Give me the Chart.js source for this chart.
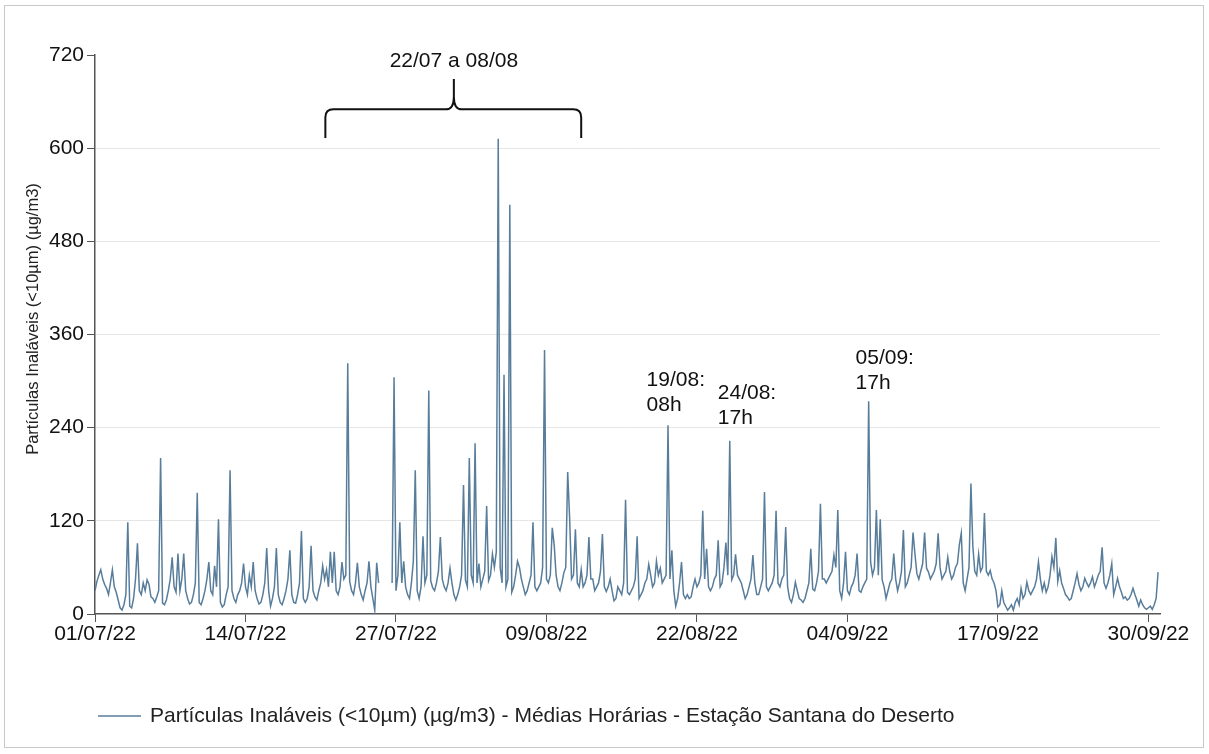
<!DOCTYPE html>
<html lang="pt">
<head>
<meta charset="utf-8">
<title>Partículas Inaláveis - Estação Santana do Deserto</title>
<script src="https://cdn.jsdelivr.net/npm/chart.js@4/dist/chart.umd.min.js"></script>
<style>
	html, body { margin: 0; padding: 0; background: #fff; }
	#box {
		position: absolute;
		left: 4px;
		top: 5px;
		width: 1198px;
		height: 741px;
		border: 1px solid #c8c8c8;
	}
	#wrap { position: absolute; left: -5px; top: -6px; width: 1209px; height: 754px; }
</style>
</head>
<body>
<div id="box"><div id="wrap"><canvas id="chart" width="1209" height="754"></canvas></div></div>
<script>
// Médias horárias, uma amostra a cada 4 h (6 por dia), 01/07/22 a 30/09/22
const STEP_HOURS = 4;
const pm10 = [
	30, 42, 50, 57, 45, 38, // 01/07
	33, 25, 40, 57, 35, 28,
	18, 8, 5, 12, 25, 118,
	10, 8, 20, 45, 91, 30,
	25, 40, 30, 44, 38, 22, // 05/07
	20, 15, 22, 30, 201, 14,
	12, 18, 30, 45, 73, 35,
	28, 78, 30, 45, 78, 30,
	20, 13, 15, 25, 40, 156,
	15, 12, 20, 30, 45, 67, // 10/07
	30, 25, 62, 35, 122, 15,
	9, 12, 25, 35, 185, 30,
	20, 15, 25, 30, 40, 65,
	35, 25, 50, 35, 67, 30,
	20, 13, 15, 25, 40, 85, // 15/07
	30, 10, 20, 35, 85, 25,
	15, 12, 20, 30, 45, 82,
	25, 15, 14, 25, 40, 107,
	20, 15, 20, 35, 88, 30,
	22, 18, 30, 40, 62, 45, // 20/07
	57, 35, 80, 40, 80, 30,
	25, 35, 67, 45, 50, 323,
	42, 30, 25, 40, 66, 35,
	25, 18, 30, 40, 68, 35,
	20, 5, 66, 40, null, null, // 25/07
	null, null, null, null, 40, 305,
	30, 50, 118, 40, 68, 35,
	25, 20, 40, 68, 185, 30,
	20, 35, 100, 40, 50, 288,
	43, 34, 30, 40, 55, 99, // 30/07
	45, 35, 30, 40, 59, 40,
	25, 18, 25, 35, 50, 166,
	44, 35, 201, 50, 40, 220,
	40, 65, 35, 45, 55, 139,
	43, 50, 77, 60, 80, 612, // 04/08
	60, 40, 308, 35, 45, 527,
	28, 35, 50, 68, 60, 45,
	35, 25, 30, 40, 50, 118,
	35, 30, 35, 40, 60, 340,
	45, 40, 50, 111, 89, 50, // 09/08
	35, 30, 40, 53, 60, 183,
	124, 45, 50, 109, 40, 35,
	57, 35, 40, 50, 99, 45,
	45, 30, 35, 40, 55, 103,
	35, 29, 35, 45, 30, 17, // 14/08
	20, 35, 30, 25, 40, 147,
	28, 25, 30, 35, 45, 100,
	20, 25, 30, 40, 45, 64,
	50, 35, 40, 68, 50, 59,
	40, 45, 50, 243, 45, 82, // 19/08
	30, 10, 20, 40, 67, 25,
	20, 25, 20, 22, 35, 45,
	35, 40, 50, 133, 45, 84,
	35, 30, 35, 45, 50, 95,
	35, 40, 60, 92, 50, 223, // 24/08
	44, 50, 77, 50, 45, 40,
	30, 20, 25, 35, 45, 76,
	40, 25, 25, 35, 45, 157,
	35, 30, 35, 40, 50, 133,
	40, 35, 45, 50, 112, 35, // 29/08
	20, 15, 25, 41, 30, 20,
	18, 15, 20, 30, 40, 84,
	32, 30, 40, 55, 142, 45,
	45, 40, 45, 50, 55, 76,
	60, 134, 30, 20, 40, 80, // 03/09
	30, 25, 35, 40, 50, 78,
	30, 28, 35, 40, 45, 274,
	67, 50, 60, 134, 50, 122,
	44, 35, 20, 30, 40, 45,
	78, 45, 30, 40, 55, 108, // 08/09
	35, 40, 50, 60, 105, 77,
	52, 45, 55, 65, 105, 59,
	54, 45, 50, 55, 65, 104,
	60, 45, 50, 55, 73, 55,
	45, 50, 60, 65, 89, 104, // 13/09
	40, 30, 45, 60, 168, 87,
	55, 50, 77, 55, 60, 130,
	55, 50, 56, 45, 40, 30,
	9, 12, 30, 15, 10, 5,
	8, 12, 5, 15, 20, 12, // 18/09
	33, 20, 25, 41, 30, 25,
	30, 35, 45, 67, 45, 30,
	40, 28, 35, 50, 74, 60,
	98, 42, 56, 40, 33, 25,
	22, 18, 20, 30, 40, 52, // 23/09
	38, 30, 35, 46, 40, 35,
	40, 48, 35, 42, 50, 55,
	86, 40, 33, 40, 50, 65,
	25, 35, 46, 35, 28, 20,
	22, 18, 20, 25, 33, 25, // 28/09
	18, 10, 18, 12, 8, 6,
	8, 10, 6, 12, 20, 54,
];

// Rótulos do eixo X (a cada 13 dias) e do eixo Y
const xTickLabels = [ '01/07/22', '14/07/22', '27/07/22', '09/08/22', '22/08/22', '04/09/22', '17/09/22', '30/09/22' ];
const xTickStepDays = 13;
const yTicks = [ 0, 120, 240, 360, 480, 600, 720 ];

const seriesLabel = 'Partículas Inaláveis (<10µm) (µg/m3) - Médias Horárias - Estação Santana do Deserto';
const yTitle = 'Partículas Inaláveis (<10µm) (µg/m3)';
const lineColor = '#587d9b';
const fontFamily = '"Liberation Sans", Arial, sans-serif';

// Anotações: posição em dias a partir de 01/07 e valor no eixo Y
const notes = [
	{ lines: [ '19/08:', '08h' ], day: 47.65, y: 301 },
	{ lines: [ '24/08:', '17h' ], day: 53.8, y: 285 },
	{ lines: [ '05/09:', '17h' ], day: 65.7, y: 330 },
];
const brace = { text: '22/07 a 08/08', from: 19.9, to: 42.0, mid: 31.0, end: 613, arm: 650, neck: 666, tip: 689, textY: 712 };

const points = pm10.map( ( v, i ) => ( { x: ( i * STEP_HOURS ) / 24, y: v } ) );

/**
 * Chave, textos de anotação, título do eixo Y e legenda
 */
const overlay = {
	id: 'overlay',
	afterDatasetsDraw( chart ) {
		const { ctx, scales } = chart;
		const xs = scales.x;
		const ys = scales.y;
		ctx.save();
		ctx.fillStyle = '#111';
		ctx.strokeStyle = '#111';
		ctx.font = '21px ' + fontFamily;

		// chave sobre o período
		const x1 = xs.getPixelForValue( brace.from );
		const x2 = xs.getPixelForValue( brace.to );
		const xm = xs.getPixelForValue( brace.mid );
		const yEnd = ys.getPixelForValue( brace.end );
		const yArm = ys.getPixelForValue( brace.arm );
		const yNeck = ys.getPixelForValue( brace.neck );
		const yTip = ys.getPixelForValue( brace.tip );
		const r = 8;
		ctx.lineWidth = 2;
		ctx.beginPath();
		ctx.moveTo( x1, yEnd );
		ctx.lineTo( x1, yArm + r );
		ctx.quadraticCurveTo( x1, yArm, x1 + r, yArm );
		ctx.lineTo( xm - r, yArm );
		ctx.quadraticCurveTo( xm, yArm, xm, yNeck );
		ctx.lineTo( xm, yTip );
		ctx.moveTo( xm, yNeck );
		ctx.quadraticCurveTo( xm, yArm, xm + r, yArm );
		ctx.lineTo( x2 - r, yArm );
		ctx.quadraticCurveTo( x2, yArm, x2, yArm + r );
		ctx.lineTo( x2, yEnd );
		ctx.stroke();

		ctx.textAlign = 'center';
		ctx.textBaseline = 'middle';
		ctx.fillText( brace.text, xm, ys.getPixelForValue( brace.textY ) );

		// datas dos picos
		ctx.textAlign = 'left';
		notes.forEach( ( n ) => {
			const x = xs.getPixelForValue( n.day );
			const y = ys.getPixelForValue( n.y );
			n.lines.forEach( ( t, k ) => ctx.fillText( t, x, y + k * 25 ) );
		} );

		// título do eixo Y (um pouco acima do centro, como no original)
		ctx.save();
		ctx.translate( 33, 319 );
		ctx.rotate( -Math.PI / 2 );
		ctx.textAlign = 'center';
		ctx.fillStyle = '#222';
		ctx.font = '16.5px ' + fontFamily;
		ctx.fillText( yTitle, 0, 0 );
		ctx.restore();

		// legenda
		const ly = 716;
		ctx.strokeStyle = lineColor;
		ctx.lineWidth = 1.5;
		ctx.beginPath();
		ctx.moveTo( 98, ly );
		ctx.lineTo( 141, ly );
		ctx.stroke();
		ctx.fillStyle = '#222';
		ctx.font = '21px ' + fontFamily;
		ctx.fillText( seriesLabel, 150, ly );
		ctx.restore();
	},
};

new Chart( document.getElementById( 'chart' ), {
	type: 'line',
	data: {
		datasets: [
			{
				label: seriesLabel,
				data: points,
				borderColor: lineColor,
				borderWidth: 1.5,
				pointRadius: 0,
				tension: 0,
				spanGaps: false,
			},
		],
	},
	options: {
		responsive: false,
		animation: false,
		layout: { padding: { left: 22, right: 49, top: 55, bottom: 0 } },
		plugins: {
			legend: { display: false },
			tooltip: { enabled: false },
		},
		scales: {
			x: {
				type: 'linear',
				min: 0,
				max: 92,
				afterFit( scale ) {
					scale.height = 140;
				},
				afterBuildTicks( scale ) {
					scale.ticks = xTickLabels.map( ( l, i ) => ( { value: i * xTickStepDays } ) );
				},
				ticks: {
					autoSkip: false,
					maxRotation: 0,
					padding: 0,
					color: '#111',
					font: { family: fontFamily, size: 21 },
					callback: ( v ) => xTickLabels[ Math.round( v / xTickStepDays ) ],
				},
				grid: {
					drawOnChartArea: false,
					tickLength: 8,
					tickColor: '#555',
				},
				border: { color: '#555', width: 1.5 },
			},
			y: {
				min: 0,
				max: 720,
				afterFit( scale ) {
					scale.width = 73;
				},
				afterBuildTicks( scale ) {
					scale.ticks = yTicks.map( ( v ) => ( { value: v } ) );
				},
				ticks: {
					padding: 3,
					color: '#111',
					font: { family: fontFamily, size: 21 },
				},
				grid: {
					color: ( c ) => ( c.tick && c.tick.value > 0 && c.tick.value < 720 ? '#e6e6e6' : 'rgba(0,0,0,0)' ),
					tickLength: 8,
					tickColor: '#555',
				},
				border: { color: '#555', width: 1.5 },
			},
		},
	},
	plugins: [ overlay ],
} );
</script>
</body>
</html>
